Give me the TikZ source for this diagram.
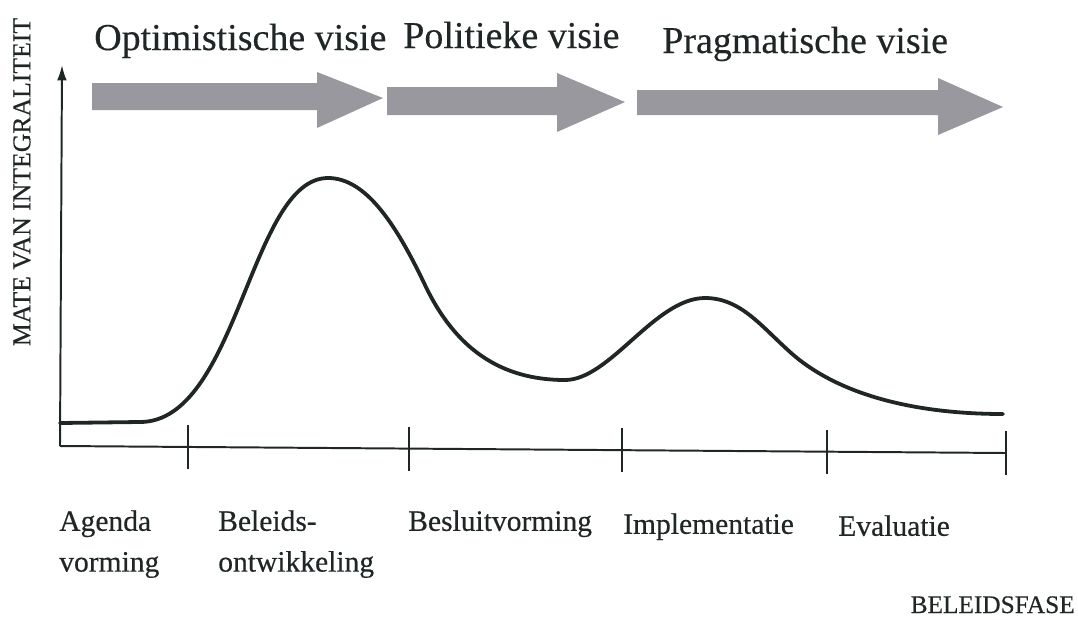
\documentclass[tikz,border=0pt]{standalone}
\usepackage{fontspec}
\setmainfont{Liberation Serif}[FakeBold=0.4]
\usepackage{tikz}
\usetikzlibrary{arrows.meta}

\definecolor{inkcol}{RGB}{30,38,38}
\definecolor{arrowgray}{RGB}{152,152,158}

\begin{document}
\begin{tikzpicture}[
    x=0.025cm, y=-0.025cm,
    every node/.style={text=inkcol, inner sep=0pt},
    visie/.style={anchor=base west, font=\fontsize{27}{30}\selectfont},
    fase/.style={anchor=north west, align=left, font=\fontsize{21}{29}\selectfont},
    axis/.style={draw=inkcol, line width=1.4pt},
    tick/.style={draw=inkcol, line width=1.5pt},
    phase/.style={fill=arrowgray},
    curve/.style={draw=inkcol, line width=2.7pt, line cap=round}
]
\useasboundingbox (0,0) rectangle (1078,619);

% Visies and phase arrows
\node[visie] (optim) at (94,50) {Optimistische visie};
\node[visie] (polit) at (403,48) {Politieke visie};
\node[visie] (pragm) at (662,53) {Pragmatische visie};

\fill[phase] (92,83) -- (317,83) -- (317,72) -- (383,98) -- (317,128) -- (317,110) -- (92,110) -- cycle;
\fill[phase] (387,87) -- (557,87) -- (557,73) -- (625,102) -- (557,132) -- (557,115) -- (387,115) -- cycle;
\fill[phase] (637,90) -- (938,90) -- (938,78) -- (1003,107) -- (938,135) -- (938,115) -- (637,115) -- cycle;

% Axes
\coordinate (origin) at (60,446);
\coordinate (ytop) at (62,65);
\coordinate (xend) at (1006,453);
\draw[axis, -{Latex[length=11pt,width=7pt]}] (origin) -- (ytop);
\draw[axis] (origin) -- (xend);

% Phase boundaries
\coordinate (t1) at (188,447);
\coordinate (t2) at (409,449);
\coordinate (t3) at (622,450);
\coordinate (t4) at (827,452);
\coordinate (t5) at (1006,453);
\draw[tick] ([yshift=-22*0.025cm]t1) -- ([yshift=22*0.025cm]t1);
\draw[tick] ([yshift=-22*0.025cm]t2) -- ([yshift=22*0.025cm]t2);
\draw[tick] ([yshift=-22*0.025cm]t3) -- ([yshift=22*0.025cm]t3);
\draw[tick] ([yshift=-22*0.025cm]t4) -- ([yshift=22*0.025cm]t4);
\draw[tick] ([yshift=-22*0.025cm]t5) -- ([yshift=22*0.025cm]t5);

% Mate van integraliteit
\coordinate (peak1) at (328,178);
\coordinate (dip) at (565,380);
\coordinate (peak2) at (705,298);
\draw[curve] (60,423) -- (140,422)
    .. controls (238,422) and (250,178) .. (peak1)
    .. controls (365,178) and (395,222) .. (425,285)
    .. controls (455,348) and (500,380) .. (dip)
    .. controls (610,380) and (655,298) .. (peak2)
    .. controls (740,298) and (760,325) .. (790,352)
    .. controls (840,397) and (920,414) .. (1003,414);

% Labels
\node[fase] (agenda) at (59,510) {Agenda\\vorming};
\node[fase] (beleid) at (218,510) {Beleids-\\ontwikkeling};
\node[fase] (besluit) at (408,510) {Besluitvorming};
\node[fase] (impl) at (623,513) {Implementatie};
\node[fase] (eval) at (838,515) {Evaluatie};

\node[anchor=base east, font=\fontsize{18}{20}\selectfont] (xlabel) at (1075,613) {BELEIDSFASE};
\node[rotate=90, font=\fontsize{18.3}{20}\selectfont] (ylabel) at (22,182) {MATE VAN INTEGRALITEIT};

\end{tikzpicture}
\end{document}
